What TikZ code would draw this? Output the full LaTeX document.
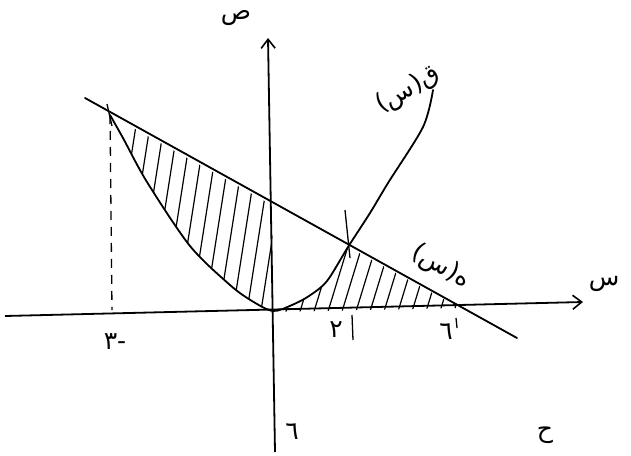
\documentclass[tikz,border=0pt]{standalone}
\usepackage{fontspec}
\newfontfamily\arabicfont[Script=Arabic]{DejaVu Sans}
\TeXXeTstate=1
\usetikzlibrary{arrows.meta}
\begin{document}
\begin{tikzpicture}[x=1pt,y=-1pt,
  axis/.style={line width=1.8pt,-{Straight Barb[length=9pt,width=14pt,line width=1.6pt]}},
  curve/.style={line width=1.8pt,line cap=round},
  hatch/.style={line width=1.2pt,line cap=round},
  lbl/.style={font=\arabicfont\fontsize{25}{25}\selectfont,inner sep=0pt}]
\useasboundingbox[fill=white] (0,0) rectangle (631,455);
% coordinates
\coordinate (xs) at (5,316);
\coordinate (xe) at (583,302);
\coordinate (ys) at (275,452);
\coordinate (ye) at (268,38);
\coordinate (O) at (273,312);
\coordinate (A) at (110,115);
\coordinate (B) at (348,247);
\coordinate (C) at (460,308);
\coordinate (Y) at (272,205);
\coordinate (Ls) at (85,98);
\coordinate (Le) at (517,338);
% hatching left
\begin{scope}
\clip (A) -- (Y) -- (O) plot[smooth] coordinates {(273,311) (252,301) (230,285) (190,246) (147,182) (123,138) (110,115)} -- cycle;
\foreach \x in {110,124,...,290}
  \draw[hatch] (\x-6,330) -- (\x+30,100);
\end{scope}
% hatching right
\begin{scope}
\clip plot[smooth] coordinates {(273,311) (292,305) (309,296) (327,281) (348,247)} -- (C) -- (O) -- cycle;
\foreach \x in {270,284,...,470}
  \draw[hatch] (\x,318) -- (\x+30,220);
\end{scope}
% axes
\draw[axis] (xs) -- (xe);
\draw[axis] (ys) -- (ye);
% line
\draw[curve] (Ls) -- (Le);
% parabola
\draw[curve] plot[smooth] coordinates {(110,115) (123,138) (147,182) (190,246) (230,285) (252,301) (273,311) (292,305) (309,296) (327,281) (348,247) (370,213) (388,183) (423,127) (433,90)};
% dashed line at x=-3
\coordinate (Ad) at (112,310);
\draw[line width=1.3pt,dash pattern=on 9pt off 7pt] (A) -- (Ad);
\draw[line width=1.3pt] (107,104) -- (112,126);
% tick at x=2
\coordinate (T1) at (345,210);
\coordinate (T2) at (350,258);
\draw[line width=1.3pt] (T1) -- (T2);
\draw[line width=1.3pt] (352,315) -- (353,340);
\draw[line width=1.3pt] (456,318) -- (457,328);
% labels
\node[lbl] (ylab) at (236,18) {\beginR ص\endR};
\node[lbl] (xlab) at (604,284) {\beginR س\endR};
\node[lbl,rotate=30] (qlab) at (408,90) {\beginR ق(س)\endR};
\node[lbl,rotate=-30] (hlab) at (441,267) {\beginR ه(س)\endR};
\node[lbl] (m3) at (115,342) {\beginR -٣\endR};
\node[lbl] (t2) at (336,330) {\beginR ٢\endR};
\node[lbl] (t6) at (446,332) {\beginR ٦\endR};
\node[lbl] (b1) at (292,432) {\beginR ٦\endR};
\node[lbl] (b2) at (545,435) {\beginR ح\endR};
\end{tikzpicture}
\end{document}
